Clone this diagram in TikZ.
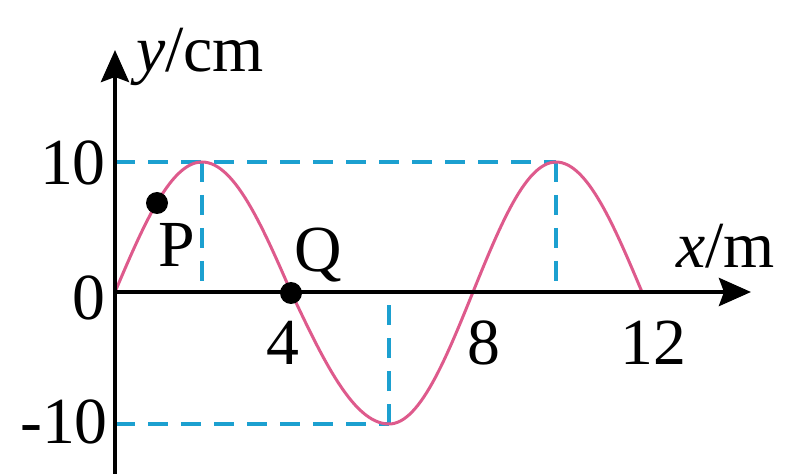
\documentclass[tikz,border=0pt]{standalone}
\usepackage{fontspec}
\setmainfont{Liberation Serif}
\usetikzlibrary{arrows.meta}
\definecolor{wavec}{RGB}{222,90,140}
\definecolor{dashc}{RGB}{28,160,208}
\begin{document}
\begin{tikzpicture}[x=1bp,y=-1bp,
  axis/.style={line width=4.5bp,draw=black},
  axarrow/.style={-{Stealth[length=32bp,width=28bp,inset=5bp]}},
  guide/.style={draw=dashc,line width=3.5bp,dash pattern=on 20bp off 13bp},
  wave/.style={draw=wavec,line width=3bp},
  lbl/.style={inner sep=0pt,font=\fontsize{66}{70}\selectfont},
  dot/.style={circle,fill=black,inner sep=0pt,minimum size=22bp}]
\useasboundingbox (0,0) rectangle (789,474);
% guide coordinates
\coordinate (Y10) at (115,162);
\coordinate (P2) at (202,162);
\coordinate (A2) at (202,292);
\coordinate (P10) at (556,162);
\coordinate (A10) at (556,292);
\coordinate (Ym10) at (115,424);
\coordinate (T6) at (389,424);
\coordinate (A6) at (389,292);
% dashed guides
\draw[guide] (Y10) -- (P10);
\draw[guide] (P2) -- (A2);
\draw[guide] (P10) -- (A10);
\draw[guide] (Ym10) -- (T6);
\draw[guide] (T6) -- (A6);
% wave
\draw[wave] plot[domain=0:1,samples=30] ({115+87*\x},{292-130*sin(90*\x)})
  -- plot[domain=0:1,samples=30] ({202+89*\x},{292-130*cos(90*\x)})
  -- plot[domain=0:1,samples=30] ({291+98*\x},{292+132*sin(90*\x)})
  -- plot[domain=0:1,samples=30] ({389+84*\x},{292+132*cos(90*\x)})
  -- plot[domain=0:1,samples=30] ({473+83*\x},{292-130*sin(90*\x)})
  -- plot[domain=0:1,samples=30] ({556+86*\x},{292-130*cos(90*\x)});
% axes
\coordinate (O) at (115,292);
\coordinate (Ybot) at (115,474);
\coordinate (Ytop) at (115,50);
\coordinate (Xend) at (751,292);
\draw[axis,axarrow] (Ybot) -- (Ytop);
\draw[axis,axarrow] (O) -- (Xend);
% points
\node[dot] (Pdot) at (157,203) {};
\node[dot] (Qdot) at (291,293) {};
% labels
\node[lbl,anchor=base west] (ylab) at (136,72) {\textit{y}/cm};
\node[lbl,anchor=base west] (xlab) at (676,268) {\textit{x}/m};
\node[lbl,anchor=base east] (t10) at (106,185) {10};
\node[lbl,anchor=base east] (t0) at (106,320) {0};
\node[lbl,anchor=base east] (tm10) at (108,443) {-10};
\node[lbl,anchor=base] (t4) at (283,365) {4};
\node[lbl,anchor=base] (t8) at (484,365) {8};
\node[lbl,anchor=base] (t12) at (653,365) {12};
\node[lbl,anchor=base] (Plab) at (177,267) {P};
\node[lbl,anchor=base] (Qlab) at (318,272) {Q};
\end{tikzpicture}
\end{document}
